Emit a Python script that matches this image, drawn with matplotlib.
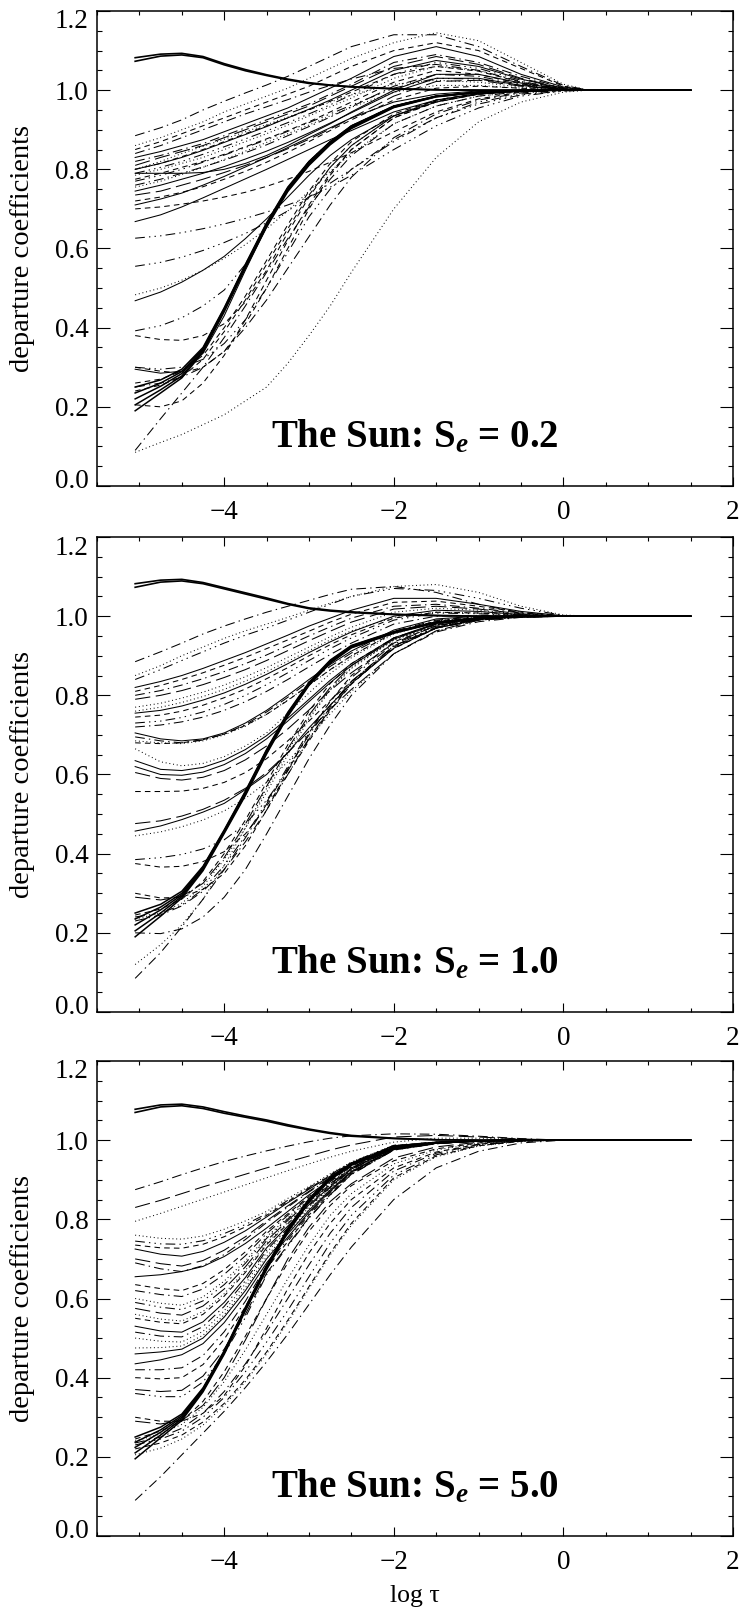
import matplotlib
matplotlib.use("Agg")
import matplotlib.pyplot as plt
from matplotlib.ticker import MultipleLocator, FuncFormatter
from matplotlib.transforms import ScaledTranslation

# ---------------- data ----------------
LOG_TAU = [-5.05, -4.75, -4.5, -4.25, -4.0, -3.75, -3.5, -3.25, -3.0, -2.75,
           -2.5, -2.0, -1.5, -1.0, -0.5, 0.0, 0.3, 1.5]

PANEL_TITLES = ["0.2", "1.0", "5.0"]

# ---- panel 1 : S_e = 0.2 ----
P1_TOP = [
    [1.082, 1.091, 1.093, 1.085, 1.067, 1.052, 1.039, 1.028, 1.019, 1.013, 1.009, 1.004, 1.001, 1.0, 1.0, 1.0, 1.0, 1.0],
    [1.073, 1.086, 1.089, 1.082, 1.064, 1.049, 1.037, 1.026, 1.017, 1.012, 1.008, 1.003, 1.001, 1.0, 1.0, 1.0, 1.0, 1.0],
]
P1_BUNDLE = [
    [0.250, 0.268, 0.295, 0.350, 0.450, 0.560, 0.665, 0.755, 0.820, 0.870, 0.910, 0.960, 0.985, 0.995, 0.999, 1.0, 1.0, 1.0],
    [0.235, 0.260, 0.289, 0.347, 0.448, 0.558, 0.663, 0.753, 0.818, 0.868, 0.908, 0.959, 0.985, 0.995, 0.999, 1.0, 1.0, 1.0],
    [0.220, 0.252, 0.284, 0.344, 0.446, 0.556, 0.660, 0.750, 0.815, 0.866, 0.906, 0.958, 0.984, 0.995, 0.999, 1.0, 1.0, 1.0],
    [0.205, 0.243, 0.278, 0.341, 0.444, 0.553, 0.657, 0.747, 0.812, 0.864, 0.905, 0.957, 0.984, 0.995, 0.999, 1.0, 1.0, 1.0],
    [0.190, 0.235, 0.273, 0.338, 0.440, 0.550, 0.654, 0.744, 0.810, 0.862, 0.903, 0.956, 0.983, 0.994, 0.999, 1.0, 1.0, 1.0],
]
P1_STYLES = "cdascl sfdsacslad csfda sfafdsfaasacdfcaa".replace(" ", "")
P1_CURVES = [
    [0.885, 0.905, 0.925, 0.950, 0.972, 0.993, 1.013, 1.035, 1.060, 1.085, 1.110, 1.140, 1.140, 1.110, 1.060, 1.012, 1.0, 1.0],
    [0.860, 0.880, 0.900, 0.920, 0.945, 0.965, 0.985, 1.005, 1.030, 1.055, 1.080, 1.120, 1.145, 1.125, 1.070, 1.015, 1.0, 1.0],
    [0.850, 0.870, 0.890, 0.910, 0.930, 0.950, 0.970, 0.990, 1.010, 1.035, 1.060, 1.100, 1.120, 1.100, 1.055, 1.010, 1.0, 1.0],
    [0.830, 0.845, 0.860, 0.875, 0.895, 0.915, 0.935, 0.955, 0.980, 1.005, 1.030, 1.085, 1.110, 1.085, 1.040, 1.008, 1.0, 1.0],
    [0.820, 0.835, 0.850, 0.865, 0.885, 0.905, 0.925, 0.945, 0.965, 0.990, 1.015, 1.070, 1.090, 1.070, 1.035, 1.006, 1.0, 1.0],
    [0.810, 0.830, 0.845, 0.860, 0.880, 0.900, 0.920, 0.940, 0.960, 0.985, 1.010, 1.060, 1.085, 1.065, 1.030, 1.005, 1.0, 1.0],
    [0.800, 0.815, 0.830, 0.848, 0.868, 0.888, 0.908, 0.930, 0.952, 0.975, 1.000, 1.050, 1.075, 1.060, 1.028, 1.004, 1.0, 1.0],
    [0.790, 0.805, 0.820, 0.838, 0.857, 0.877, 0.897, 0.918, 0.940, 0.963, 0.988, 1.040, 1.070, 1.055, 1.025, 1.003, 1.0, 1.0],
    [0.785, 0.800, 0.815, 0.830, 0.850, 0.870, 0.890, 0.912, 0.935, 0.958, 0.980, 1.030, 1.060, 1.050, 1.020, 1.003, 1.0, 1.0],
    [0.790, 0.790, 0.790, 0.792, 0.800, 0.815, 0.835, 0.860, 0.888, 0.915, 0.945, 1.000, 1.040, 1.040, 1.018, 1.002, 1.0, 1.0],
    [0.775, 0.790, 0.805, 0.820, 0.838, 0.857, 0.877, 0.898, 0.920, 0.945, 0.970, 1.020, 1.050, 1.040, 1.016, 1.002, 1.0, 1.0],
    [0.760, 0.775, 0.790, 0.806, 0.823, 0.842, 0.862, 0.885, 0.908, 0.932, 0.958, 1.010, 1.040, 1.035, 1.014, 1.002, 1.0, 1.0],
    [0.745, 0.760, 0.775, 0.790, 0.807, 0.826, 0.846, 0.868, 0.892, 0.917, 0.943, 0.995, 1.030, 1.030, 1.012, 1.001, 1.0, 1.0],
    [0.735, 0.745, 0.760, 0.775, 0.792, 0.810, 0.830, 0.852, 0.876, 0.902, 0.930, 0.985, 1.022, 1.025, 1.010, 1.001, 1.0, 1.0],
    [0.720, 0.730, 0.742, 0.756, 0.775, 0.795, 0.818, 0.843, 0.870, 0.898, 0.925, 0.975, 1.005, 1.010, 1.005, 1.0, 1.0, 1.0],
    [0.800, 0.820, 0.840, 0.858, 0.876, 0.895, 0.913, 0.932, 0.951, 0.970, 0.988, 1.015, 1.025, 1.020, 1.008, 1.001, 1.0, 1.0],
    [0.840, 0.860, 0.880, 0.900, 0.920, 0.940, 0.958, 0.976, 0.995, 1.012, 1.028, 1.055, 1.065, 1.050, 1.022, 1.003, 1.0, 1.0],
    [0.710, 0.725, 0.740, 0.760, 0.782, 0.806, 0.830, 0.855, 0.880, 0.905, 0.930, 0.970, 0.990, 0.998, 1.0, 1.0, 1.0, 1.0],
    [0.770, 0.785, 0.800, 0.818, 0.836, 0.855, 0.875, 0.896, 0.918, 0.940, 0.962, 1.005, 1.030, 1.028, 1.012, 1.001, 1.0, 1.0],
    [0.755, 0.770, 0.787, 0.805, 0.825, 0.846, 0.868, 0.890, 0.912, 0.935, 0.957, 0.995, 1.012, 1.012, 1.005, 1.0, 1.0, 1.0],
    [0.800, 0.815, 0.832, 0.850, 0.870, 0.890, 0.910, 0.930, 0.950, 0.972, 0.995, 1.040, 1.060, 1.048, 1.020, 1.002, 1.0, 1.0],
    [0.668, 0.685, 0.705, 0.728, 0.752, 0.776, 0.800, 0.825, 0.850, 0.875, 0.898, 0.945, 0.975, 0.992, 0.998, 1.0, 1.0, 1.0],
    [0.626, 0.632, 0.640, 0.650, 0.662, 0.676, 0.692, 0.710, 0.730, 0.755, 0.785, 0.850, 0.910, 0.955, 0.985, 0.998, 1.0, 1.0],
    [0.700, 0.705, 0.712, 0.720, 0.730, 0.742, 0.757, 0.775, 0.795, 0.818, 0.842, 0.895, 0.945, 0.978, 0.995, 1.0, 1.0, 1.0],
    [0.555, 0.565, 0.578, 0.595, 0.615, 0.638, 0.665, 0.695, 0.730, 0.765, 0.800, 0.870, 0.930, 0.970, 0.990, 1.0, 1.0, 1.0],
    [0.483, 0.500, 0.520, 0.545, 0.575, 0.610, 0.650, 0.695, 0.745, 0.795, 0.840, 0.915, 0.960, 0.985, 0.996, 1.0, 1.0, 1.0],
    [0.468, 0.490, 0.515, 0.545, 0.580, 0.625, 0.675, 0.730, 0.785, 0.835, 0.875, 0.935, 0.970, 0.990, 0.997, 1.0, 1.0, 1.0],
    [0.392, 0.405, 0.425, 0.455, 0.495, 0.560, 0.655, 0.750, 0.820, 0.870, 0.910, 0.960, 0.985, 0.995, 0.999, 1.0, 1.0, 1.0],
    [0.380, 0.370, 0.368, 0.380, 0.410, 0.465, 0.545, 0.640, 0.730, 0.805, 0.860, 0.935, 0.975, 0.992, 0.998, 1.0, 1.0, 1.0],
    [0.300, 0.290, 0.285, 0.300, 0.340, 0.410, 0.500, 0.600, 0.700, 0.785, 0.850, 0.930, 0.972, 0.990, 0.998, 1.0, 1.0, 1.0],
    [0.295, 0.285, 0.290, 0.335, 0.430, 0.545, 0.655, 0.750, 0.820, 0.870, 0.910, 0.960, 0.985, 0.995, 0.999, 1.0, 1.0, 1.0],
    [0.205, 0.200, 0.215, 0.260, 0.330, 0.420, 0.520, 0.620, 0.710, 0.790, 0.850, 0.930, 0.970, 0.990, 0.998, 1.0, 1.0, 1.0],
    [0.090, 0.170, 0.235, 0.300, 0.375, 0.455, 0.540, 0.625, 0.705, 0.775, 0.835, 0.915, 0.960, 0.985, 0.996, 1.0, 1.0, 1.0],
    [0.085, 0.110, 0.130, 0.155, 0.180, 0.215, 0.250, 0.310, 0.380, 0.455, 0.540, 0.700, 0.830, 0.920, 0.970, 0.995, 1.0, 1.0],
    [0.300, 0.295, 0.300, 0.320, 0.360, 0.420, 0.500, 0.590, 0.680, 0.750, 0.800, 0.875, 0.930, 0.965, 0.988, 0.998, 1.0, 1.0],
    [0.250, 0.260, 0.275, 0.300, 0.340, 0.400, 0.470, 0.550, 0.630, 0.710, 0.780, 0.880, 0.940, 0.975, 0.993, 1.0, 1.0, 1.0],
    [0.260, 0.270, 0.290, 0.330, 0.400, 0.480, 0.570, 0.660, 0.745, 0.815, 0.870, 0.940, 0.975, 0.992, 0.998, 1.0, 1.0, 1.0],
    [0.240, 0.255, 0.275, 0.320, 0.390, 0.470, 0.560, 0.650, 0.735, 0.805, 0.860, 0.935, 0.973, 0.990, 0.998, 1.0, 1.0, 1.0],
]

# ---- panel 2 : S_e = 1.0 ----
P2_TOP = [
    [1.082, 1.091, 1.093, 1.085, 1.072, 1.059, 1.046, 1.032, 1.021, 1.015, 1.011, 1.005, 1.002, 1.0, 1.0, 1.0, 1.0, 1.0],
    [1.073, 1.086, 1.089, 1.082, 1.069, 1.056, 1.043, 1.030, 1.019, 1.013, 1.009, 1.004, 1.001, 1.0, 1.0, 1.0, 1.0, 1.0],
]
P2_BUNDLE = [
    [0.250, 0.272, 0.305, 0.368, 0.460, 0.558, 0.663, 0.757, 0.833, 0.889, 0.926, 0.961, 0.985, 0.995, 0.999, 1.0, 1.0, 1.0],
    [0.235, 0.265, 0.300, 0.366, 0.458, 0.556, 0.661, 0.755, 0.831, 0.887, 0.925, 0.960, 0.985, 0.995, 0.999, 1.0, 1.0, 1.0],
    [0.220, 0.258, 0.296, 0.363, 0.456, 0.553, 0.658, 0.752, 0.829, 0.885, 0.923, 0.959, 0.984, 0.995, 0.999, 1.0, 1.0, 1.0],
    [0.205, 0.250, 0.292, 0.360, 0.454, 0.550, 0.655, 0.750, 0.827, 0.883, 0.921, 0.958, 0.984, 0.995, 0.999, 1.0, 1.0, 1.0],
    [0.190, 0.242, 0.288, 0.357, 0.451, 0.547, 0.652, 0.747, 0.825, 0.881, 0.920, 0.957, 0.983, 0.994, 0.999, 1.0, 1.0, 1.0],
]
P2_STYLES = "cdfsacld safscdd slalsdfaalcdc adcf dcas".replace(" ", "")
P2_CURVES = [
    [0.885, 0.910, 0.932, 0.955, 0.975, 0.993, 1.010, 1.025, 1.040, 1.055, 1.068, 1.075, 1.060, 1.030, 1.008, 1.0, 1.0, 1.0],
    [0.850, 0.875, 0.900, 0.922, 0.944, 0.963, 0.980, 0.997, 1.015, 1.033, 1.050, 1.075, 1.080, 1.060, 1.025, 1.003, 1.0, 1.0],
    [0.840, 0.865, 0.888, 0.910, 0.932, 0.952, 0.970, 0.990, 1.010, 1.030, 1.050, 1.070, 1.065, 1.045, 1.020, 1.002, 1.0, 1.0],
    [0.820, 0.835, 0.850, 0.868, 0.888, 0.908, 0.930, 0.952, 0.975, 0.995, 1.015, 1.045, 1.045, 1.030, 1.012, 1.001, 1.0, 1.0],
    [0.810, 0.825, 0.840, 0.857, 0.876, 0.896, 0.918, 0.940, 0.962, 0.985, 1.005, 1.035, 1.038, 1.025, 1.010, 1.001, 1.0, 1.0],
    [0.800, 0.812, 0.826, 0.842, 0.860, 0.880, 0.902, 0.926, 0.950, 0.973, 0.995, 1.025, 1.030, 1.020, 1.008, 1.0, 1.0, 1.0],
    [0.790, 0.800, 0.812, 0.827, 0.845, 0.865, 0.888, 0.913, 0.938, 0.962, 0.985, 1.018, 1.025, 1.018, 1.006, 1.0, 1.0, 1.0],
    [0.770, 0.780, 0.793, 0.808, 0.826, 0.847, 0.870, 0.896, 0.922, 0.948, 0.972, 1.010, 1.020, 1.015, 1.005, 1.0, 1.0, 1.0],
    [0.755, 0.762, 0.773, 0.788, 0.806, 0.828, 0.853, 0.880, 0.908, 0.935, 0.960, 1.000, 1.015, 1.012, 1.004, 1.0, 1.0, 1.0],
    [0.745, 0.750, 0.760, 0.775, 0.794, 0.816, 0.842, 0.870, 0.900, 0.928, 0.953, 0.995, 1.010, 1.008, 1.003, 1.0, 1.0, 1.0],
    [0.730, 0.735, 0.744, 0.758, 0.777, 0.800, 0.827, 0.857, 0.888, 0.918, 0.945, 0.990, 1.008, 1.006, 1.002, 1.0, 1.0, 1.0],
    [0.705, 0.690, 0.685, 0.690, 0.705, 0.730, 0.762, 0.800, 0.840, 0.878, 0.912, 0.965, 0.993, 1.0, 1.0, 1.0, 1.0, 1.0],
    [0.695, 0.685, 0.680, 0.687, 0.702, 0.726, 0.758, 0.795, 0.835, 0.873, 0.907, 0.962, 0.990, 0.999, 1.0, 1.0, 1.0, 1.0],
    [0.685, 0.680, 0.678, 0.685, 0.700, 0.722, 0.752, 0.788, 0.826, 0.864, 0.900, 0.958, 0.988, 0.998, 1.0, 1.0, 1.0, 1.0],
    [0.665, 0.632, 0.622, 0.628, 0.645, 0.672, 0.705, 0.755, 0.806, 0.855, 0.895, 0.955, 0.986, 0.997, 1.0, 1.0, 1.0, 1.0],
    [0.635, 0.613, 0.610, 0.618, 0.636, 0.663, 0.698, 0.742, 0.790, 0.838, 0.880, 0.945, 0.982, 0.996, 1.0, 1.0, 1.0, 1.0],
    [0.605, 0.590, 0.586, 0.593, 0.610, 0.637, 0.672, 0.715, 0.763, 0.812, 0.857, 0.932, 0.976, 0.994, 1.0, 1.0, 1.0, 1.0],
    [0.557, 0.557, 0.558, 0.565, 0.580, 0.605, 0.640, 0.685, 0.735, 0.787, 0.835, 0.918, 0.970, 0.992, 0.999, 1.0, 1.0, 1.0],
    [0.476, 0.483, 0.495, 0.512, 0.535, 0.565, 0.605, 0.655, 0.710, 0.765, 0.815, 0.905, 0.963, 0.990, 0.998, 1.0, 1.0, 1.0],
    [0.457, 0.470, 0.486, 0.505, 0.527, 0.562, 0.600, 0.655, 0.718, 0.775, 0.830, 0.919, 0.970, 0.992, 0.999, 1.0, 1.0, 1.0],
    [0.445, 0.455, 0.468, 0.485, 0.508, 0.540, 0.580, 0.632, 0.692, 0.753, 0.810, 0.905, 0.962, 0.990, 0.998, 1.0, 1.0, 1.0],
    [0.385, 0.390, 0.398, 0.412, 0.435, 0.475, 0.535, 0.610, 0.690, 0.765, 0.830, 0.925, 0.972, 0.993, 0.999, 1.0, 1.0, 1.0],
    [0.375, 0.366, 0.368, 0.380, 0.405, 0.450, 0.520, 0.600, 0.685, 0.762, 0.828, 0.922, 0.970, 0.992, 0.999, 1.0, 1.0, 1.0],
    [0.300, 0.288, 0.290, 0.310, 0.350, 0.420, 0.510, 0.610, 0.705, 0.785, 0.850, 0.935, 0.975, 0.993, 0.999, 1.0, 1.0, 1.0],
    [0.290, 0.283, 0.292, 0.325, 0.390, 0.475, 0.570, 0.665, 0.750, 0.820, 0.875, 0.945, 0.980, 0.995, 1.0, 1.0, 1.0, 1.0],
    [0.200, 0.198, 0.210, 0.240, 0.290, 0.360, 0.450, 0.545, 0.640, 0.725, 0.800, 0.905, 0.960, 0.986, 0.997, 1.0, 1.0, 1.0],
    [0.120, 0.170, 0.220, 0.285, 0.370, 0.465, 0.565, 0.660, 0.745, 0.815, 0.870, 0.940, 0.976, 0.993, 0.999, 1.0, 1.0, 1.0],
    [0.085, 0.150, 0.215, 0.285, 0.360, 0.440, 0.525, 0.615, 0.700, 0.775, 0.835, 0.925, 0.970, 0.990, 0.998, 1.0, 1.0, 1.0],
    [0.245, 0.260, 0.285, 0.330, 0.400, 0.485, 0.580, 0.675, 0.760, 0.830, 0.880, 0.945, 0.978, 0.994, 0.999, 1.0, 1.0, 1.0],
    [0.235, 0.250, 0.275, 0.318, 0.385, 0.465, 0.555, 0.650, 0.740, 0.813, 0.868, 0.940, 0.976, 0.993, 0.999, 1.0, 1.0, 1.0],
    [0.230, 0.245, 0.268, 0.305, 0.360, 0.430, 0.510, 0.600, 0.690, 0.770, 0.835, 0.925, 0.970, 0.991, 0.998, 1.0, 1.0, 1.0],
    [0.240, 0.250, 0.270, 0.310, 0.370, 0.445, 0.530, 0.620, 0.710, 0.785, 0.845, 0.930, 0.972, 0.992, 0.999, 1.0, 1.0, 1.0],
    [0.760, 0.770, 0.782, 0.797, 0.815, 0.836, 0.860, 0.886, 0.913, 0.940, 0.963, 0.997, 1.010, 1.008, 1.003, 1.0, 1.0, 1.0],
    [0.720, 0.725, 0.733, 0.745, 0.762, 0.784, 0.810, 0.840, 0.872, 0.903, 0.932, 0.980, 1.000, 1.002, 1.0, 1.0, 1.0, 1.0],
    [0.680, 0.678, 0.680, 0.688, 0.702, 0.724, 0.752, 0.787, 0.826, 0.865, 0.900, 0.958, 0.988, 0.998, 1.0, 1.0, 1.0, 1.0],
    [0.620, 0.600, 0.598, 0.606, 0.625, 0.653, 0.690, 0.735, 0.784, 0.832, 0.875, 0.942, 0.980, 0.995, 1.0, 1.0, 1.0, 1.0],
]

# ---- panel 3 : S_e = 5.0 ----
P3_TOP = [
    [1.078, 1.089, 1.091, 1.084, 1.072, 1.061, 1.051, 1.039, 1.028, 1.019, 1.012, 1.005, 1.001, 1.0, 1.0, 1.0, 1.0, 1.0],
    [1.070, 1.084, 1.087, 1.080, 1.068, 1.058, 1.048, 1.036, 1.026, 1.017, 1.010, 1.004, 1.001, 1.0, 1.0, 1.0, 1.0, 1.0],
]
P3_BUNDLE = [
    [0.250, 0.275, 0.308, 0.374, 0.468, 0.578, 0.683, 0.777, 0.852, 0.906, 0.941, 0.981, 0.994, 0.998, 1.0, 1.0, 1.0, 1.0],
    [0.237, 0.268, 0.304, 0.372, 0.466, 0.576, 0.681, 0.775, 0.850, 0.905, 0.940, 0.980, 0.994, 0.998, 1.0, 1.0, 1.0, 1.0],
    [0.224, 0.262, 0.300, 0.370, 0.464, 0.574, 0.679, 0.773, 0.848, 0.903, 0.939, 0.980, 0.994, 0.998, 1.0, 1.0, 1.0, 1.0],
    [0.210, 0.255, 0.296, 0.367, 0.462, 0.572, 0.676, 0.770, 0.846, 0.901, 0.938, 0.979, 0.993, 0.998, 1.0, 1.0, 1.0, 1.0],
    [0.195, 0.248, 0.292, 0.364, 0.459, 0.569, 0.673, 0.767, 0.844, 0.900, 0.937, 0.979, 0.993, 0.998, 1.0, 1.0, 1.0, 1.0],
]
P3_STYLES = "cld dfaslscacdfldascddsscalfal c adcfad".replace(" ", "")
P3_CURVES = [
    [0.875, 0.895, 0.913, 0.930, 0.946, 0.960, 0.973, 0.985, 0.996, 1.005, 1.011, 1.016, 1.015, 1.010, 1.004, 1.0, 1.0, 1.0],
    [0.830, 0.848, 0.865, 0.882, 0.898, 0.914, 0.930, 0.945, 0.960, 0.975, 0.988, 1.008, 1.012, 1.008, 1.003, 1.0, 1.0, 1.0],
    [0.795, 0.815, 0.833, 0.851, 0.869, 0.887, 0.905, 0.923, 0.940, 0.957, 0.972, 0.995, 1.005, 1.005, 1.002, 1.0, 1.0, 1.0],
    [0.760, 0.752, 0.750, 0.758, 0.775, 0.796, 0.820, 0.853, 0.883, 0.915, 0.945, 0.987, 0.995, 0.999, 1.0, 1.0, 1.0, 1.0],
    [0.745, 0.738, 0.737, 0.746, 0.764, 0.787, 0.814, 0.848, 0.880, 0.913, 0.944, 0.987, 0.995, 0.999, 1.0, 1.0, 1.0, 1.0],
    [0.735, 0.728, 0.727, 0.737, 0.756, 0.781, 0.810, 0.845, 0.878, 0.911, 0.943, 0.986, 0.995, 0.999, 1.0, 1.0, 1.0, 1.0],
    [0.725, 0.712, 0.707, 0.719, 0.742, 0.771, 0.806, 0.842, 0.876, 0.909, 0.942, 0.986, 0.995, 0.999, 1.0, 1.0, 1.0, 1.0],
    [0.700, 0.688, 0.682, 0.696, 0.722, 0.756, 0.796, 0.834, 0.871, 0.906, 0.940, 0.985, 0.994, 0.999, 1.0, 1.0, 1.0, 1.0],
    [0.655, 0.660, 0.668, 0.681, 0.706, 0.739, 0.778, 0.820, 0.862, 0.900, 0.937, 0.984, 0.994, 0.999, 1.0, 1.0, 1.0, 1.0],
    [0.690, 0.675, 0.668, 0.683, 0.711, 0.749, 0.792, 0.831, 0.869, 0.904, 0.939, 0.985, 0.994, 0.999, 1.0, 1.0, 1.0, 1.0],
    [0.635, 0.625, 0.620, 0.638, 0.673, 0.718, 0.770, 0.814, 0.858, 0.897, 0.935, 0.983, 0.994, 0.999, 1.0, 1.0, 1.0, 1.0],
    [0.620, 0.610, 0.605, 0.624, 0.661, 0.708, 0.764, 0.810, 0.855, 0.895, 0.934, 0.983, 0.994, 0.999, 1.0, 1.0, 1.0, 1.0],
    [0.600, 0.588, 0.583, 0.604, 0.644, 0.695, 0.756, 0.804, 0.851, 0.892, 0.932, 0.982, 0.993, 0.999, 1.0, 1.0, 1.0, 1.0],
    [0.590, 0.578, 0.572, 0.594, 0.635, 0.689, 0.752, 0.801, 0.849, 0.890, 0.931, 0.982, 0.993, 0.999, 1.0, 1.0, 1.0, 1.0],
    [0.575, 0.563, 0.558, 0.581, 0.624, 0.680, 0.746, 0.797, 0.846, 0.888, 0.930, 0.981, 0.993, 0.999, 1.0, 1.0, 1.0, 1.0],
    [0.560, 0.548, 0.543, 0.567, 0.612, 0.671, 0.740, 0.792, 0.843, 0.886, 0.929, 0.981, 0.993, 0.999, 1.0, 1.0, 1.0, 1.0],
    [0.550, 0.540, 0.536, 0.560, 0.606, 0.666, 0.736, 0.789, 0.841, 0.885, 0.928, 0.981, 0.993, 0.999, 1.0, 1.0, 1.0, 1.0],
    [0.530, 0.518, 0.515, 0.541, 0.590, 0.653, 0.728, 0.783, 0.837, 0.882, 0.927, 0.980, 0.993, 0.999, 1.0, 1.0, 1.0, 1.0],
    [0.515, 0.505, 0.503, 0.529, 0.580, 0.645, 0.722, 0.778, 0.834, 0.880, 0.925, 0.980, 0.993, 0.999, 1.0, 1.0, 1.0, 1.0],
    [0.500, 0.492, 0.490, 0.517, 0.569, 0.637, 0.716, 0.774, 0.831, 0.878, 0.924, 0.979, 0.993, 0.999, 1.0, 1.0, 1.0, 1.0],
    [0.475, 0.476, 0.480, 0.507, 0.559, 0.627, 0.706, 0.767, 0.826, 0.875, 0.922, 0.978, 0.992, 0.998, 1.0, 1.0, 1.0, 1.0],
    [0.460, 0.465, 0.472, 0.500, 0.553, 0.620, 0.700, 0.763, 0.823, 0.874, 0.921, 0.978, 0.992, 0.998, 1.0, 1.0, 1.0, 1.0],
    [0.435, 0.445, 0.458, 0.486, 0.539, 0.609, 0.690, 0.755, 0.818, 0.871, 0.919, 0.977, 0.992, 0.998, 1.0, 1.0, 1.0, 1.0],
    [0.420, 0.420, 0.425, 0.456, 0.516, 0.593, 0.684, 0.750, 0.815, 0.869, 0.918, 0.977, 0.992, 0.998, 1.0, 1.0, 1.0, 1.0],
    [0.400, 0.397, 0.400, 0.433, 0.497, 0.579, 0.676, 0.744, 0.811, 0.866, 0.916, 0.976, 0.992, 0.998, 1.0, 1.0, 1.0, 1.0],
    [0.370, 0.365, 0.368, 0.404, 0.472, 0.560, 0.664, 0.735, 0.805, 0.862, 0.914, 0.975, 0.991, 0.998, 1.0, 1.0, 1.0, 1.0],
    [0.360, 0.352, 0.352, 0.389, 0.460, 0.552, 0.660, 0.732, 0.803, 0.861, 0.913, 0.975, 0.991, 0.998, 1.0, 1.0, 1.0, 1.0],
    [0.300, 0.290, 0.290, 0.310, 0.355, 0.430, 0.525, 0.625, 0.715, 0.790, 0.850, 0.930, 0.970, 0.990, 0.998, 1.0, 1.0, 1.0],
    [0.290, 0.283, 0.292, 0.330, 0.400, 0.495, 0.600, 0.700, 0.780, 0.845, 0.890, 0.955, 0.983, 0.995, 1.0, 1.0, 1.0, 1.0],
    [0.090, 0.150, 0.205, 0.260, 0.315, 0.375, 0.440, 0.510, 0.585, 0.660, 0.730, 0.850, 0.930, 0.972, 0.993, 1.0, 1.0, 1.0],
    [0.245, 0.265, 0.290, 0.340, 0.415, 0.505, 0.600, 0.690, 0.770, 0.835, 0.885, 0.948, 0.978, 0.993, 0.999, 1.0, 1.0, 1.0],
    [0.240, 0.258, 0.282, 0.325, 0.390, 0.470, 0.560, 0.650, 0.735, 0.810, 0.865, 0.940, 0.975, 0.992, 0.999, 1.0, 1.0, 1.0],
    [0.235, 0.250, 0.272, 0.310, 0.365, 0.435, 0.515, 0.600, 0.685, 0.765, 0.830, 0.922, 0.967, 0.989, 0.998, 1.0, 1.0, 1.0],
    [0.230, 0.245, 0.265, 0.300, 0.350, 0.415, 0.490, 0.570, 0.655, 0.740, 0.810, 0.912, 0.963, 0.987, 0.998, 1.0, 1.0, 1.0],
    [0.220, 0.235, 0.255, 0.288, 0.335, 0.395, 0.465, 0.545, 0.630, 0.715, 0.790, 0.905, 0.960, 0.986, 0.997, 1.0, 1.0, 1.0],
    [0.205, 0.222, 0.245, 0.280, 0.330, 0.390, 0.460, 0.540, 0.625, 0.710, 0.785, 0.900, 0.958, 0.985, 0.997, 1.0, 1.0, 1.0],
]

PANELS = [
    (P1_TOP, P1_BUNDLE, P1_CURVES, P1_STYLES, PANEL_TITLES[0]),
    (P2_TOP, P2_BUNDLE, P2_CURVES, P2_STYLES, PANEL_TITLES[1]),
    (P3_TOP, P3_BUNDLE, P3_CURVES, P3_STYLES, PANEL_TITLES[2]),
]

# ---------------- style ----------------
plt.rcParams["font.family"] = ["Liberation Serif", "DejaVu Serif"]
plt.rcParams["mathtext.fontset"] = "custom"
plt.rcParams["mathtext.rm"] = "Liberation Serif:bold"
plt.rcParams["mathtext.it"] = "Liberation Serif:italic:bold"
plt.rcParams["mathtext.bf"] = "Liberation Serif:bold"
plt.rcParams["lines.scale_dashes"] = False

LS = {
    "s": "-",
    "d": (0, (0.7, 2.0)),
    "a": (0, (4.0, 3.0)),
    "c": (0, (7.0, 3.0, 1.0, 3.0)),
    "f": (0, (7.0, 3.0, 1.0, 3.0, 1.0, 3.0, 1.0, 3.0)),
    "l": (0, (11.0, 4.0)),
}

W, H = 741, 1610
fig = plt.figure(figsize=(W / 100, H / 100), dpi=100)

ax_left, ax_right = 97, 733
tops = [11, 537, 1061]
ax_h = 475

fmt_x = FuncFormatter(lambda v, p: f"{v:.0f}".replace("-", "\u2212"))
fmt_y = FuncFormatter(lambda v, p: f"{v:.1f}")

for (top, bundle, curves, styles, se), ytop in zip(PANELS, tops):
    assert len(curves) == len(styles)
    ax = fig.add_axes([ax_left / W, 1 - (ytop + ax_h) / H, (ax_right - ax_left) / W, ax_h / H])
    for y, st in zip(curves, styles):
        ax.plot(LOG_TAU, y, color="black", lw=0.75, ls=LS[st])
    for y in bundle:
        ax.plot(LOG_TAU, y, color="black", lw=1.1, ls="-")
    for y in top:
        ax.plot(LOG_TAU, y, color="black", lw=1.2, ls="-")

    ax.set_xlim(-5.5, 2.0)
    ax.set_ylim(0.0, 1.2)
    ax.xaxis.set_major_locator(MultipleLocator(2))
    ax.xaxis.set_minor_locator(MultipleLocator(0.5))
    ax.yaxis.set_major_locator(MultipleLocator(0.2))
    ax.yaxis.set_minor_locator(MultipleLocator(0.05))
    ax.xaxis.set_major_formatter(fmt_x)
    ax.yaxis.set_major_formatter(fmt_y)
    ax.tick_params(axis="both", which="both", direction="in", top=True, right=True,
                   width=0.8, color="black", labelsize=19.5)
    ax.tick_params(axis="x", which="major", length=6.5, pad=10)
    ax.tick_params(axis="x", which="minor", length=3.0)
    ax.tick_params(axis="y", which="major", length=9.5, pad=6)
    ax.tick_params(axis="y", which="minor", length=3.6)
    for sp in ax.spines.values():
        sp.set_linewidth(1.1)

    # the end labels of the y axis sit slightly inside the frame, as in the original
    fig.canvas.draw()
    for lab in ax.get_yticklabels():
        t = lab.get_text()
        if t == "1.2":
            lab.set_transform(lab.get_transform() + ScaledTranslation(0, -8 / 100, fig.dpi_scale_trans))
        elif t == "0.0":
            lab.set_transform(lab.get_transform() + ScaledTranslation(0, 8 / 100, fig.dpi_scale_trans))

    ax.text(0.5, 0.082, "The Sun: $\\mathrm{S}_{e}$ = " + se, transform=ax.transAxes,
            ha="center", va="baseline", fontsize=28, fontweight="bold")

    fig.text(23 / W, 1 - (ytop + ax_h / 2) / H, "departure coefficients", rotation=90,
             ha="center", va="center", fontsize=20.5)

fig.text(415 / W, 1 - 1602 / H, "log \u03c4", ha="center", va="baseline", fontsize=18.5)

fig.savefig("out.png", dpi=100)
